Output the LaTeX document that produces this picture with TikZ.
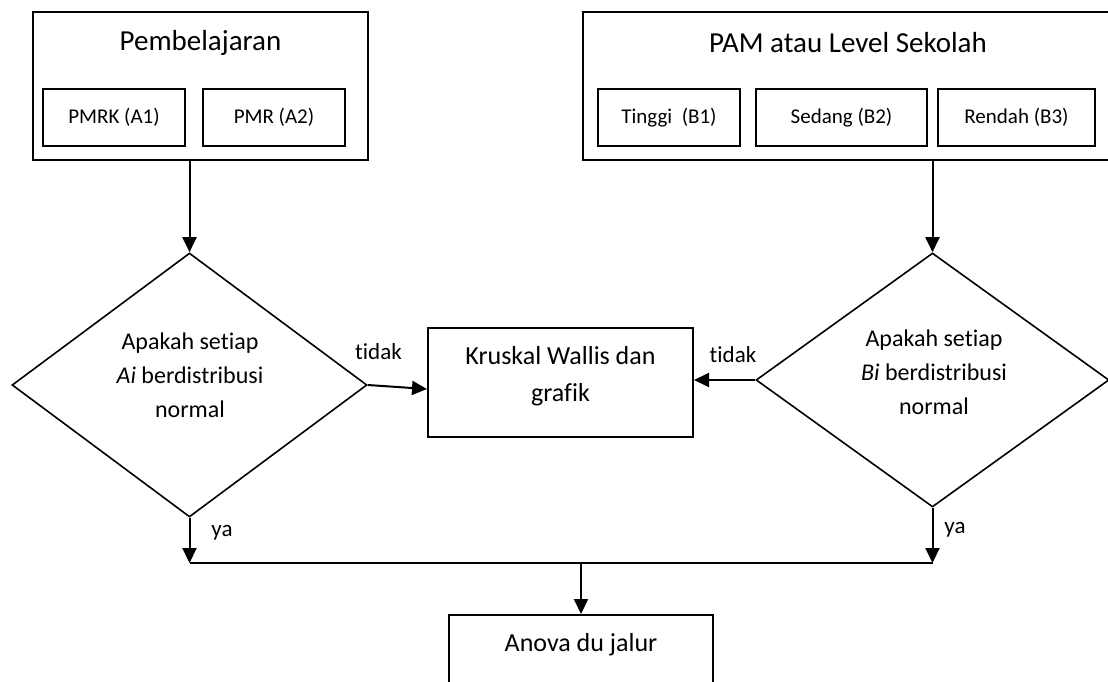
\documentclass[tikz,border=0pt]{standalone}
\usepackage{fontspec}
\setmainfont{Carlito}[Ligatures={NoCommon}]
\usetikzlibrary{shapes.geometric,arrows.meta}
\tikzset{
  boxline/.style={draw=black, line width=2pt, inner sep=0pt},
  outerbox/.style={boxline},
  innerbox/.style={draw=black, line width=1.8pt, inner sep=0pt, minimum height=57pt, font=\fontsize{21}{25}\selectfont},
  decision/.style={draw=black, line width=1.6pt, diamond, inner sep=0pt},
  titletext/.style={inner sep=0pt, font=\fontsize{29}{35}\selectfont},
  dectext/.style={inner sep=0pt, align=center, font=\fontsize{24}{34}\selectfont},
  boxtext/.style={inner sep=0pt, align=center, font=\fontsize{26}{37}\selectfont},
  lbl/.style={inner sep=0pt, font=\fontsize{23}{27}\selectfont},
  arr/.style={line width=2pt, -{Triangle[length=15pt,width=14pt]}},
  plain/.style={line width=2pt},
}
\begin{document}
\begin{tikzpicture}[x=1pt,y=-1pt]
\useasboundingbox (0,0) rectangle (1108,682);
\clip (0,0) rectangle (1108,682);
% top-left group
\node[outerbox, minimum width=335pt, minimum height=148pt] (lbox) at (200.5,86) {};
\node[titletext] (ltitle) at (200.5,43) {Pembelajaran};
\node[innerbox, minimum width=142pt] (a1) at (114,117.5) {PMRK (A1)};
\node[innerbox, minimum width=142pt] (a2) at (274,117.5) {PMR (A2)};
% top-right group
\node[outerbox, minimum width=530pt, minimum height=148pt] (rbox) at (848,86) {};
\node[titletext] (rtitle) at (848,43) {PAM atau Level Sekolah};
\node[innerbox, minimum width=141.5pt] (b1) at (669,117.5) {Tinggi\ \ (B1)};
\node[innerbox, minimum width=171pt] (b2) at (841.5,117.5) {Sedang (B2)};
\node[innerbox, minimum width=157pt] (b3) at (1016.5,117.5) {Rendah (B3)};
% decisions
\node[decision, minimum width=355pt, minimum height=264pt] (ldia) at (189.5,385) {};
\node[dectext] (ldtext) at (190,375) {Apakah setiap\\\textit{Ai} berdistribusi\\normal};
\node[decision, minimum width=353pt, minimum height=254pt] (rdia) at (932.5,380) {};
\node[dectext] (rdtext) at (934,372) {Apakah setiap\\\textit{Bi} berdistribusi\\normal};
% Kruskal
\node[boxline, minimum width=265pt, minimum height=109pt] (krus) at (560.5,382.5) {};
\node[boxtext] (krustext) at (560.5,376) {Kruskal Wallis dan\\grafik};
% Anova
\node[boxline, minimum width=264pt, minimum height=150pt] (anova) at (581,690) {};
\node[boxtext] (anovatext) at (581,645) {Anova du jalur};
% connectors
\draw[arr] (lbox.south -| ldia.north) -- (ldia.north);
\draw[arr] (rbox.south -| rdia.north) -- (rdia.north);
\draw[arr] (ldia.east) -- ([yshift=-6.5pt]krus.west);
\draw[arr] (rdia.west) -- (krus.east |- rdia.west);
\coordinate (jl) at (189.5,563);
\coordinate (jr) at (932.5,563);
\coordinate (jm) at (581,563);
\draw[arr] (ldia.south) -- (jl);
\draw[arr] (rdia.south) -- (jr);
\draw[plain] (jl) -- (jr);
\draw[arr] (jm) -- (anova.north);
% labels
\node[lbl] (tl) at (378.5,352) {tidak};
\node[lbl] (tr) at (733,355) {tidak};
\node[lbl] (yl) at (222,533) {ya};
\node[lbl] (yr) at (955,530) {ya};
\end{tikzpicture}
\end{document}
